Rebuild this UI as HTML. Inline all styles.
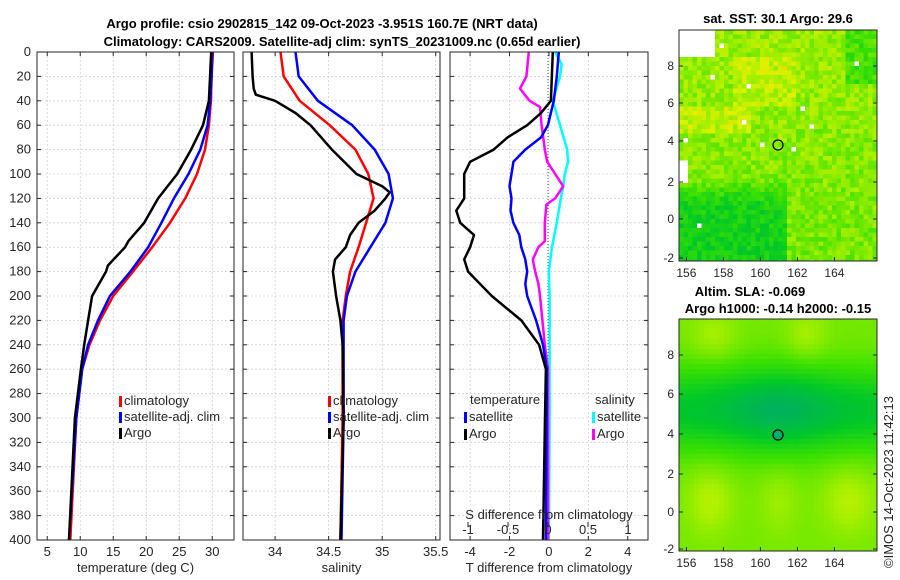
<!DOCTYPE html>
<html><head><meta charset="utf-8"><style>
body{margin:0;background:#fff;}
svg{display:block;font-family:"Liberation Sans",sans-serif;}
</style></head><body>
<svg id="c" width="900" height="580" viewBox="0 0 900 580"></svg>
<script>
const depths=[0,20,40,60,80,100,120,140,160,180,200,220,240,260,300,400];
// Panel 1 temperature
const tArgoD=[0,40,60,80,100,120,140,155,160,175,180,200,220,240,260,300,400];
const tArgo=[29.85,29.5,28.6,26.8,24.7,21.8,19.7,17.3,16.8,14.2,13.9,11.8,11.2,10.6,10.1,9.2,8.3];
const tSat=[30,29.9,29.7,29.3,28.2,26.4,24.2,22.3,20.3,17.6,14.5,12.7,11.2,10.3,9.4,8.3];
const tClim=[30.1,29.9,29.8,29.5,28.9,27.7,25.9,23.6,20.9,18.0,15.0,13.0,11.4,10.3,9.4,8.5];
// Panel 2 salinity
const sArgoD=[0,20,30,35,40,50,60,80,100,110,115,120,130,140,150,160,170,180,200,220,240,300,400];
const sArgo=[33.78,33.79,33.80,33.82,34.0,34.19,34.33,34.53,34.76,35.0,35.07,35.03,34.93,34.78,34.70,34.66,34.56,34.54,34.57,34.61,34.63,34.64,34.61];
const sClim=[34.05,34.08,34.23,34.51,34.75,34.87,34.92,34.85,34.78,34.70,34.66,34.63,34.63,34.63,34.63,34.61];
const sSat=[34.19,34.22,34.4,34.72,34.93,35.06,35.10,35.03,34.89,34.75,34.67,34.64,34.64,34.64,34.64,34.62];
// Panel 3 differences
const dTArgoD=[0,40,50,60,70,80,90,100,110,120,130,140,150,160,170,180,200,220,240,260,300,400];
const dTArgo=[0.2,0.1,-0.4,-1.1,-2.1,-2.8,-4.0,-4.3,-4.3,-4.3,-4.7,-4.5,-3.8,-4.0,-4.3,-4.1,-2.9,-1.4,-0.5,-0.15,-0.2,-0.3];
const dTSatD=[0,20,40,60,70,80,90,100,110,120,130,140,150,160,170,180,190,200,220,240,260,400];
const dTSat=[0.5,0.4,0.25,-0.05,-0.4,-1.2,-1.8,-1.9,-2.0,-1.9,-1.95,-1.8,-1.5,-1.4,-1.2,-1.1,-1.2,-1.1,-0.65,-0.3,-0.1,-0.15];
const dSArgoD=[0,20,30,40,45,60,80,90,100,110,120,125,140,155,160,170,180,190,200,240,260,300,400];
const dSArgo=[-0.24,-0.27,-0.35,-0.23,-0.1,-0.08,-0.04,-0.01,0.09,0.19,0.09,-0.02,-0.04,-0.04,-0.12,-0.19,-0.16,-0.12,-0.1,-0.04,0,0,0];
const dSSatD=[0,10,20,40,60,80,90,100,110,120,140,160,180,200,300,400];
const dSSat=[0.09,0.17,0.15,0.06,0.15,0.24,0.25,0.21,0.19,0.16,0.11,0.05,0.01,0.02,0.02,0.01];
const depthTicks=[0,20,40,60,80,100,120,140,160,180,200,220,240,260,280,300,320,340,360,380,400];

const svg=document.getElementById('c');
const NS='http://www.w3.org/2000/svg';
function mk(tag,at,parent){const e=document.createElementNS(NS,tag);for(const k in at)e.setAttribute(k,at[k]);(parent||svg).appendChild(e);return e;}
function txt(x,y,s,at,parent){const e=mk('text',Object.assign({x:x,y:y,'font-size':13,fill:'#262626'},at||{}),parent);e.textContent=s;return e;}
const Y0=52,Y1=540;
const yD=d=>Y0+(Y1-Y0)*d/400;

function panel(name,x0,x1,xmin,xmax,ticks,tickLabels,xlabel){
  const g=mk('g',{});
  
  
  const sx=v=>x0+(x1-x0)*(v-xmin)/(xmax-xmin);
  mk('rect',{x:x0,y:Y0,width:x1-x0,height:Y1-Y0,fill:'#fff'},g);
  depthTicks.forEach(d=>{mk('line',{x1:x0,x2:x1,y1:yD(d),y2:yD(d),stroke:'#b8c4e0','stroke-width':0.6,'stroke-dasharray':'2,2'},g);
    mk('line',{x1:x0,x2:x0+4,y1:yD(d),y2:yD(d),stroke:'#262626'},g);mk('line',{x1:x1-4,x2:x1,y1:yD(d),y2:yD(d),stroke:'#262626'},g);});
  ticks.forEach((t,i)=>{const x=sx(t);mk('line',{x1:x,x2:x,y1:Y0,y2:Y1,stroke:'#b8c4e0','stroke-width':0.6,'stroke-dasharray':'2,2'},g);
    mk('line',{x1:x,x2:x,y1:Y1,y2:Y1-4,stroke:'#262626'},g);mk('line',{x1:x,x2:x,y1:Y0,y2:Y0+4,stroke:'#262626'},g);
    const l=txt(x,556,tickLabels[i],{'text-anchor':'middle'},g);
    
    });
  const xl=txt((x0+x1)/2,572,xlabel,{'text-anchor':'middle'},g);
  
  
  return {g,sx};
}
function line(p,sx,ds,vs,color,name){
  const pts=ds.map((d,i)=>sx(vs[i]).toFixed(1)+','+yD(d).toFixed(1)).join(' ');
  const e=mk('polyline',{points:pts,fill:'none',stroke:color,'stroke-width':2.5,'stroke-linejoin':'round'},p.g);
  
  
}
function frame(g,x0,x1){mk('rect',{x:x0,y:Y0,width:x1-x0,height:Y1-Y0,fill:'none',stroke:'#262626','stroke-width':1},g);}
function legendItem(g,x,y,color,label,name){
  mk('rect',{x:x,y:y-9,width:3,height:11,fill:color},g);
  const t=txt(x+5,y,label,{'font-size':13},g);
  
  
}

// Panel 1
const p1=panel('temperature-panel',37,234,3.45,33.3,[5,10,15,20,25,30],['5','10','15','20','25','30'],'temperature (deg C)');
line(p1,p1.sx,depths,tClim,'#ff0000','climatology-temp-line');
line(p1,p1.sx,depths,tSat,'#0000ff','satellite-temp-line');
line(p1,p1.sx,tArgoD,tArgo,'#000000','argo-temp-line');
depthTicks.forEach(d=>{const t=txt(31,yD(d)+4,String(d),{'text-anchor':'end'},p1.g);
  
  });
legendItem(p1.g,119,405,'#ff0000','climatology','legend-climatology');
legendItem(p1.g,119,421,'#0000ff','satellite-adj. clim','legend-satellite');
legendItem(p1.g,119,437,'#000000','Argo','legend-argo');
frame(p1.g,37,234);

// Panel 2
const p2=panel('salinity-panel',243,440,33.7,35.54,[34,34.5,35,35.5],['34','34.5','35','35.5'],'salinity');
line(p2,p2.sx,depths,sClim,'#ff0000','climatology-sal-line');
line(p2,p2.sx,depths,sSat,'#0000ff','satellite-sal-line');
line(p2,p2.sx,sArgoD,sArgo,'#000000','argo-sal-line');
legendItem(p2.g,328,405,'#ff0000','climatology','legend-climatology');
legendItem(p2.g,328,421,'#0000ff','satellite-adj. clim','legend-satellite');
legendItem(p2.g,328,437,'#000000','Argo','legend-argo');
frame(p2.g,243,440);

// Panel 3
const p3=panel('difference-panel',450,648,-5.02,5.03,[-4,-2,0,2,4],['-4','-2','0','2','4'],'T difference from climatology');
const sxS=v=>548+80*v;
mk('line',{x1:548,x2:548,y1:Y0,y2:Y1,stroke:'#555','stroke-width':1,'stroke-dasharray':'1,2'},p3.g);
line(p3,sxS,dSSatD,dSSat,'#00ffff','satellite-sal-diff-line');
line(p3,sxS,dSArgoD,dSArgo,'#ff00ff','argo-sal-diff-line');
line(p3,p3.sx,dTSatD,dTSat,'#0000ff','satellite-temp-diff-line');
line(p3,p3.sx,dTArgoD,dTArgo,'#000000','argo-temp-diff-line');
txt(470,404,'temperature',{},p3.g);
txt(595,404,'salinity',{},p3.g);
legendItem(p3.g,464,421,'#0000ff','satellite','legend-temp-satellite');
legendItem(p3.g,592,421,'#00ffff','satellite','legend-sal-satellite');
legendItem(p3.g,464,438,'#000000','Argo','legend-temp-argo');
legendItem(p3.g,592,438,'#ff00ff','Argo','legend-sal-argo');
const sTicks=[-1,-0.5,0,0.5,1];
sTicks.forEach(t=>{const l=txt(sxS(t),534,String(t),{'text-anchor':'middle'},p3.g);
  
  
  mk('line',{x1:sxS(t),x2:sxS(t),y1:522,y2:527,stroke:'#262626'},p3.g);});
txt(549,519,'S difference from climatology',{'text-anchor':'middle'},p3.g);
frame(p3.g,450,648);

// Titles
const t1=txt(322,28,'Argo profile: csio 2902815_142 09-Oct-2023 -3.951S 160.7E (NRT data)',{'text-anchor':'middle','font-weight':'bold','fill':'#000'});

const t2=txt(342,46,'Climatology: CARS2009. Satellite-adj clim: synTS_20231009.nc (0.65d earlier)',{'text-anchor':'middle','font-weight':'bold','fill':'#000'});


// Maps
function hash(i,j,s){let h=(i*374761393+j*668265263+s*1442695041)>>>0;h=((h^(h>>>13))*1274126177)>>>0;return ((h^(h>>>16))>>>0)/4294967295;}
function cmap(v){v=Math.max(0,Math.min(1,v));
  const st=[[0,[0,170,110]],[0.3,[0,200,40]],[0.55,[60,225,0]],[0.8,[170,240,0]],[0.95,[230,240,0]],[1,[240,150,0]]];
  for(let k=1;k<st.length;k++){if(v<=st[k][0]){const a=st[k-1],b=st[k],t=(v-a[0])/(b[0]-a[0]);
    return 'rgb('+a[1].map((c,i)=>Math.round(c+(b[1][i]-c)*t)).join(',')+')';}}
  return 'rgb(240,150,0)';}
function map(name,x0,y0,w,h,latTop,latBot,yTicks,field,cell,whiteFn){
  const g=mk('g',{});
  
  
  const lonOf=x=>155.6+(166.3-155.6)*(x-x0)/w;
  const latOf=y=>latTop+(latBot-latTop)*(y-y0)/h;
  for(let i=0;i*cell<w;i++)for(let j=0;j*cell<h;j++){
    const cx=x0+i*cell,cy=y0+j*cell;
    const lon=lonOf(cx+cell/2),lat=latOf(cy+cell/2);
    let c=cmap(field(lon,lat,i,j));
    if(whiteFn&&whiteFn(lon,lat,i,j))c='#fff';
    mk('rect',{x:cx,y:cy,width:Math.min(cell,x0+w-cx)+0.3,height:Math.min(cell,y0+h-cy)+0.3,fill:c},g);
  }
  const sx=lon=>x0+w*(lon-155.6)/(166.3-155.6);
  [156,158,160,162,164].forEach(l=>{txt(sx(l),y0+h+16,String(l),{'text-anchor':'middle','font-size':12},g);
    mk('line',{x1:sx(l),x2:sx(l),y1:y0+h,y2:y0+h-4,stroke:'#262626'},g);});
  yTicks.forEach(([lat,y])=>{txt(x0-5,y+4,String(lat),{'font-size':12,'text-anchor':'end'},g);
    mk('line',{x1:x0,x2:x0+4,y1:y,y2:y,stroke:'#262626'},g);mk('line',{x1:x0+w,x2:x0+w-4,y1:y,y2:y,stroke:'#262626'},g);});
  mk('rect',{x:x0,y:y0,width:w,height:h,fill:'none',stroke:'#262626'},g);
  return {g,sx};
}
const sstField=(lon,lat,i,j)=>{
  let v=0.72+0.04*(lat-4)/5;
  if(lat<2.3&&lon<161.5)v-=0.3*Math.min(1,(2.3-lat)/1.5);
  if(lat>6&&lat<8.5&&lon>158.5&&lon<162)v+=0.1;
  if(lat>4.5&&lat<6&&lon<159.5)v+=0.12;
  if(lon>164.5&&lat>7)v-=0.2;
  return v+(hash(i,j,3)-0.5)*0.22;
};
const sstWhite=(lon,lat,i,j)=>(lon<157.5&&lat>8.6)||(lon<156.1&&lat>2&&lat<3.2)||hash(i,j,9)>0.995;
const m1=map('sst-map',679,30,198,231,9.9,-2.1,[[8,66],[6,103],[4,141],[2,182],[0,219],[-2,258]],sstField,4.5,sstWhite);
mk('circle',{cx:778,cy:145,r:5,fill:'none',stroke:'#000','stroke-width':1.2},m1.g);
const slaField=(lon,lat)=>{
  let v=0.68-0.6*Math.exp(-((lat-5.2)**2)/4.5)*(0.65+0.35*Math.exp(-((lon-161)**2)/8));
  v+=0.12*Math.exp(-((lat-9)**2)/1.5)*(Math.exp(-((lon-157.5)**2)/1.5)+Math.exp(-((lon-162.5)**2)/1.2));
  v+=0.15*Math.exp(-((lat-0.5)**2)/3)*(Math.exp(-((lon-157.3)**2)/1.5)+Math.exp(-((lon-164.8)**2)/2)+0.6*Math.exp(-((lon-161)**2)/1));
  return v;
};
const m2=map('sla-map',679,319,198,232,9.9,-2.1,[[8,355],[6,394],[4,434],[2,474],[0,512],[-2,549]],slaField,5,null);
mk('circle',{cx:778,cy:435,r:5,fill:'#00b070',stroke:'#000','stroke-width':1.2},m2.g);
const mt1=txt(778,23,'sat. SST: 30.1 Argo: 29.6',{'text-anchor':'middle','font-weight':'bold','fill':'#000'});

const mt2=txt(750,296,'Altim. SLA: -0.069',{'text-anchor':'middle','font-weight':'bold','fill':'#000'});

const mt3=txt(778,313,'Argo h1000: -0.14 h2000: -0.15',{'text-anchor':'middle','font-weight':'bold','fill':'#000'});

const cr=txt(0,0,'©IMOS 14-Oct-2023 11:42:13',{'font-size':13,'transform':'translate(893,568) rotate(-90)','fill':'#262626'});

</script>
</body></html>
